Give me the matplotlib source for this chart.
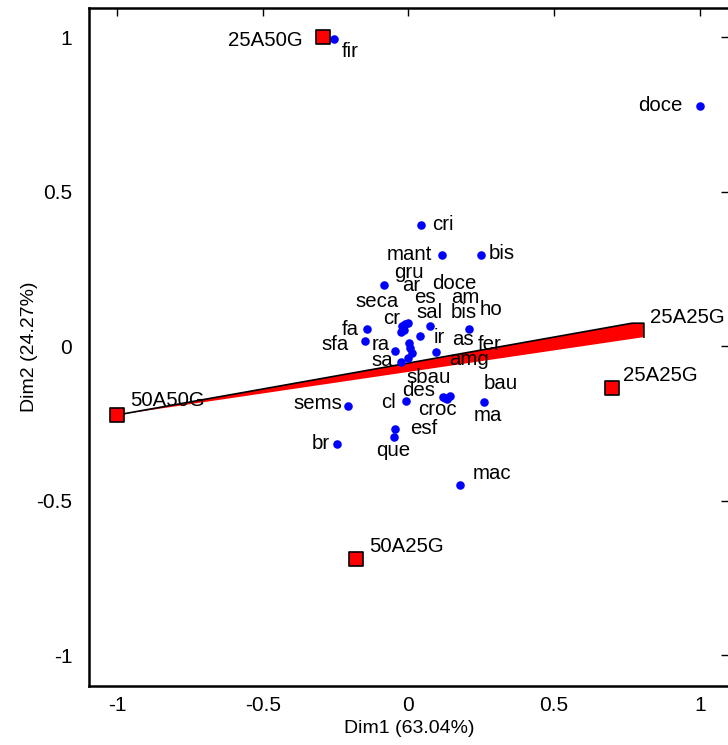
import numpy as np
import matplotlib
matplotlib.use("Agg")
import matplotlib.pyplot as plt

plt.rcParams['font.family'] = ['Liberation Sans', 'DejaVu Sans']

# active categories (blue points)
names = ["fir", "doce", "cri", "mant", "bis", "gru", "ar", "doce", "seca", "es",
         "am", "ho", "sal", "bis", "cr", "fa", "sfa", "ra", "ir", "as",
         "fer", "sa", "amg", "sbau", "des", "bau", "croc", "sems", "cl", "ma",
         "esf", "br", "que", "mac"]
dim1 = [-0.256, 1.0, 0.043, 0.115, 0.249, -0.084, -0.012, 0.002, -0.027, -0.003,
        -0.014, 0.207, 0.074, 0.005, -0.021, -0.143, -0.149, -0.046, 0.039, 0.012,
        -0.002, -0.027, 0.094, 0.118, 0.132, 0.142, 0.125, -0.208, -0.009, 0.260,
        -0.045, -0.245, -0.051, 0.177]
dim2 = [0.994, 0.777, 0.392, 0.294, 0.294, 0.197, 0.073, 0.010, 0.046, 0.075,
        0.052, 0.054, 0.065, -0.006, 0.066, 0.054, 0.016, -0.016, 0.032, -0.023,
        -0.039, -0.051, -0.019, -0.165, -0.172, -0.162, -0.168, -0.193, -0.177, -0.182,
        -0.268, -0.317, -0.295, -0.450]

# supplementary categories (red squares)
sup_names = ["25A50G", "50A50G", "25A25G", "50A25G"]
sup_dim1 = [-0.293, -1.0, 0.698, -0.18]
sup_dim2 = [1.0, -0.223, -0.136, -0.689]

# wedge from 50A50G towards 25A25G
wedge_x = [-1.0, 0.767, 0.808, 0.808]
wedge_y = [-0.223, 0.074, 0.074, 0.029]
wedge_label = "25A25G"

xticks = [-1, -0.5, 0, 0.5, 1]
yticks = [-1, -0.5, 0, 0.5, 1]

# label offsets in pixels (layout)
label_off = [(16, -13), (-40, 0), (22, 0), (-33, 1), (21, 2), (25, 13), (6, 38), (45, 59),
             (-24, 30), (17, 25), (61, 33), (22, 20), (0, 13), (54, 35), (-11, 7), (-16, 0),
             (-30, -3), (-14, 7), (19, -1), (51, 14), (82, 14), (-18, 1), (33, -8), (-14, 20),
             (-28, 9), (51, 13), (-7, -12), (-30, 2), (-17, -2), (4, -13), (28, 0), (-16, 1),
             (0, -13), (32, 12)]
sup_off = [(-58, -3), (50, 14), (48, 13), (50, 12)]

fig = plt.figure(figsize=(7.28, 7.45), dpi=100)
ax = fig.add_axes([89/728, 59/745, 640/728, 678/745])

ax.fill(wedge_x, wedge_y, color="red", lw=0, zorder=2)
ax.plot(wedge_x, wedge_y, color="black", lw=1.2, zorder=3)
ax.text(wedge_x[2] + 0.02, wedge_y[2] + 0.017, wedge_label, fontsize=14.7, va="center", ha="left")

ax.scatter(dim1, dim2, s=38, color="blue", zorder=4, linewidths=0)
for n, x, y, (dx, dy) in zip(names, dim1, dim2, label_off):
    ax.annotate(n, (x, y), xytext=(dx, dy), textcoords="offset pixels",
                ha="center", va="center", fontsize=14.7, zorder=5)

ax.scatter(sup_dim1, sup_dim2, s=115, marker="s", color="red", edgecolors="black",
           linewidths=1.2, zorder=4)
for n, x, y, (dx, dy) in zip(sup_names, sup_dim1, sup_dim2, sup_off):
    ax.annotate(n, (x, y), xytext=(dx, dy), textcoords="offset pixels",
                ha="center", va="center", fontsize=14.7, zorder=5)

ax.set_xlim(-1.096, 1.1)
ax.set_ylim(-1.1, 1.094)
ax.set_xticks(xticks)
ax.set_yticks(yticks)
ax.set_xticklabels(["-1", "-0.5", "0", "0.5", "1"])
ax.set_yticklabels(["-1", "-0.5", "0", "0.5", "1"])
ax.tick_params(axis="both", labelsize=15, length=0)
ax.tick_params(axis="x", pad=7)
ax.tick_params(axis="y", pad=12)
ax.tick_params(top=True, right=True, direction="in", length=6, width=1,
               which="major")
ax.tick_params(bottom=False, left=False)
for s in ax.spines.values():
    s.set_linewidth(1.8)

ax.set_xlabel("Dim1 (63.04%)", fontsize=14, labelpad=4)
ax.set_ylabel("Dim2 (24.27%)", fontsize=14, labelpad=-1)

fig.savefig("out.png", dpi=100)
